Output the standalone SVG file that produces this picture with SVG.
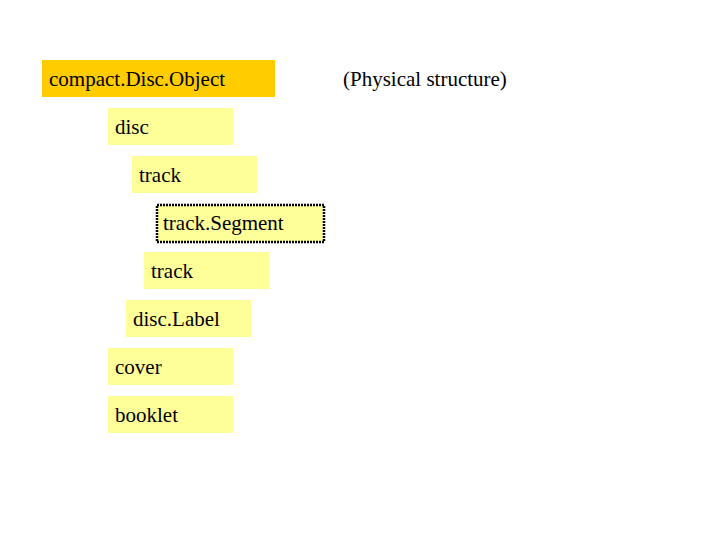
<svg xmlns="http://www.w3.org/2000/svg" width="720" height="540" viewBox="0 0 720 540">
<style>
text{font-family:"Liberation Serif",serif;font-size:21px;fill:#000}
.b{fill:#FFFF99}
</style>
<rect width="720" height="540" fill="#fff"/>
<g id="compactDiscObject"><rect x="42" y="60" width="233" height="37" fill="#FFCC00"/><text x="49" y="86">compact.Disc.Object</text></g>
<g id="note"><text x="343" y="86">(Physical structure)</text></g>
<g id="disc"><rect class="b" x="108" y="108" width="125" height="37"/><text x="115" y="134">disc</text></g>
<g id="track1"><rect class="b" x="132" y="156" width="125" height="37"/><text x="139" y="182">track</text></g>
<g id="trackSegment"><rect class="b" x="157" y="205" width="167" height="37" stroke="#000" stroke-width="2.5" stroke-dasharray="2 1"/><text x="163" y="230">track.Segment</text></g>
<g id="track2"><rect class="b" x="144" y="252" width="125" height="37"/><text x="151" y="278">track</text></g>
<g id="discLabel"><rect class="b" x="126" y="300" width="125" height="37"/><text x="133" y="326">disc.Label</text></g>
<g id="cover"><rect class="b" x="108" y="348" width="125" height="37"/><text x="115" y="374">cover</text></g>
<g id="booklet"><rect class="b" x="108" y="396" width="125" height="37"/><text x="115" y="422">booklet</text></g>
<g id="connectors"/>
</svg>
